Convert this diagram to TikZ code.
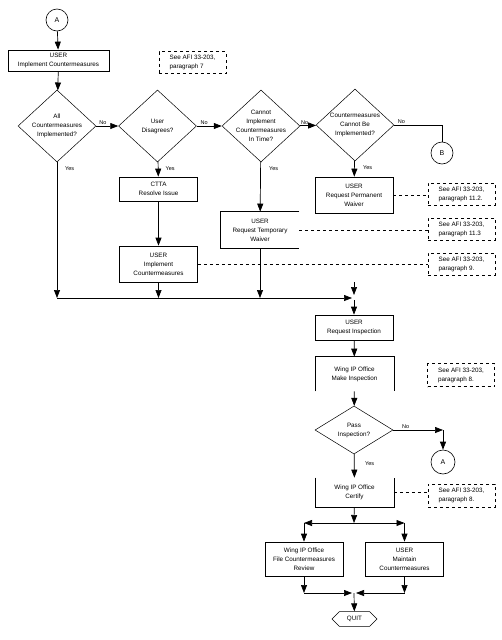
\documentclass[tikz,border=0pt]{standalone}
\usepackage{fontspec}
\setmainfont{Liberation Sans}
\usetikzlibrary{arrows.meta,positioning,shapes.geometric,shapes.misc,calc}

\begin{document}
\begin{tikzpicture}[
  x=1pt, y=-1pt,
  font=\fontsize{6.3}{9}\selectfont,
  box/.style={draw, minimum width=78pt, minimum height=34pt, align=center, inner sep=1pt, line width=0.7pt},
  openbox/.style={box, draw=none},
  decision/.style={diamond, draw, minimum width=78pt, minimum height=72pt, inner sep=-9pt, align=center, line width=0.5pt},
  note/.style={draw, dashed, minimum width=67pt, minimum height=22pt, align=left, inner sep=1pt, line width=0.7pt},
  conn/.style={circle, draw, minimum size=22pt, inner sep=0pt, line width=0.6pt, font=\fontsize{7}{8}\selectfont},
  term/.style={chamfered rectangle, chamfered rectangle xsep=4pt, draw, minimum width=45pt, minimum height=14pt, inner sep=1pt, line width=0.6pt},
  arr/.style={-{Triangle[length=8pt,width=6pt]}, line width=0.7pt},
  link/.style={dashed, line width=0.7pt},
  lbl/.style={font=\fontsize{5.5}{6}\selectfont, inner sep=1pt}
]
\useasboundingbox (0,0) rectangle (502,640);

% --- top row of decisions
\node[conn] (A1) at (57,20) {A};
\node[box, minimum width=101pt, minimum height=21pt] (impl) at (58.5,60.5) {USER\\Implement Countermeasures};
\node[note] (n7) at (192.5,62.5) {See AFI 33-203,\\paragraph 7};
\node[decision] (allimp) at (57,126) {All\\Countermeasures\\Implemented?};
\node[decision] (disagree) at (157.5,126) {User\\Disagrees?};
\node[decision] (intime) at (261,126) {Cannot\\Implement\\Countermeasures\\In Time?};
\node[decision] (cannot) at (355,125) {Countermeasures\\Cannot Be\\Implemented?};
\node[conn] (B) at (442,153) {B};

\draw[arr] (A1) -- (impl);
\draw[arr] (impl) -- (allimp);
\draw[arr] (allimp) -- node[lbl, above, pos=0.3] {No} (disagree);
\draw[arr] (disagree) -- node[lbl, above, pos=0.3] {No} (intime);
\draw[arr] (intime) -- node[lbl, above, pos=0.3] {No} (cannot);
\draw[line width=0.7pt] (cannot.east) -- node[lbl, above, pos=0.15] {No} (cannot.east -| B) -- (B.north);

% --- waivers and resolution
\node[box, minimum height=24pt] (ctta) at (158.5,189) {CTTA\\Resolve Issue};
\node[box, minimum height=36pt] (impl2) at (158.5,264) {USER\\Implement\\Countermeasures};
\node[openbox, minimum height=36pt] (tempw) at (260,230) {USER\\Request Temporary\\Waiver};
\node[box, minimum height=36pt] (permw) at (354,195) {USER\\Request Permanent\\Waiver};
\node[note] (n112) at (461.5,194) {See AFI 33-203,\\paragraph 11.2.};
\node[note] (n113) at (461.5,229) {See AFI 33-203,\\paragraph 11.3};
\node[note] (n9) at (461.5,264) {See AFI 33-203,\\paragraph 9.};
\draw[line width=0.7pt] (tempw.north east) -- (tempw.north west) -- (tempw.south west) -- (tempw.south east);

\draw[arr] (disagree) -- (ctta);
\draw[arr] (ctta) -- (impl2);
\draw[arr] (intime) -- (tempw);
\draw[arr] (cannot) -- (permw);
\node[lbl, anchor=west] at ([xshift=7pt,yshift=-6pt]allimp.south) {Yes};
\node[lbl, anchor=west] at ([xshift=7pt,yshift=-6pt]disagree.south) {Yes};
\node[lbl, anchor=west] at ([xshift=7pt,yshift=-6pt]intime.south) {Yes};
\node[lbl, anchor=west] at ([xshift=7pt,yshift=-6pt]cannot.south) {Yes};
\draw[link] (permw.east) -- (permw.east -| n112.west);
\draw[link] (tempw.east) -- (tempw.east -| n113.west);
\draw[link] (impl2.east) -- (impl2.east -| n9.west);

% --- join line
\coordinate (join) at (354,298);
\coordinate (stub) at (354,282);
\draw[arr] (allimp.south) -- (allimp.south |- join);
\draw[arr] (impl2) -- (impl2 |- join);
\draw[arr] (tempw) -- (tempw |- join);
\draw[arr, shorten >=2pt] (allimp.south |- join) -- (join);
\draw[arr, shorten >=3pt] (stub) -- (join);

% --- inspection
\node[box, minimum height=25pt] (reqinsp) at (354,327.5) {USER\\Request Inspection};
\node[openbox, minimum height=34pt] (mkinsp) at (354.5,374) {Wing IP Office\\Make Inspection};
\node[note, minimum height=23pt] (n8a) at (461,375) {See AFI 33-203,\\paragraph 8.};
\node[decision, minimum height=48pt] (pass) at (354,430) {Pass\\Inspection?};
\node[conn, minimum size=24pt] (A2) at (443,462) {A};
\node[openbox, minimum height=29pt] (certify) at (354.5,492.5) {Wing IP Office\\Certify};
\node[note, minimum height=23pt] (n8b) at (461.5,495.5) {See AFI 33-203,\\paragraph 8.};
\draw[line width=0.7pt] (mkinsp.south west) -- (mkinsp.north west) -- (mkinsp.north east) -- (mkinsp.south east);
\draw[line width=0.7pt] (certify.north west) -- (certify.south west) -- (certify.south east) -- (certify.north east);

\draw[arr] ([yshift=-2pt]join) -- (reqinsp);
\draw[arr] (reqinsp) -- (mkinsp);
\draw[arr] (mkinsp) -- (pass);
\draw[arr] (pass.east) -- node[lbl, above, pos=0.25] {No} (pass.east -| A2);
\draw[arr] (pass.east -| A2) -- (A2);
\draw[arr] (pass) -- (certify);
\node[lbl, anchor=west] at ([xshift=10pt,yshift=-9pt]pass.south) {Yes};
\draw[link] (certify.east) -- (certify.east -| n8b.west);

% --- closing
\coordinate (split) at (354,523);
\coordinate (merge) at (354,593);
\node[box] (filerev) at (304,559) {Wing IP Office\\File Countermeasures\\Review};
\node[box] (maintain) at (404.5,559) {USER\\Maintain\\Countermeasures};
\node[term] (quit) at (354.5,619) {QUIT};

\draw[arr] (certify) -- (split);
\draw[arr] (split) -- (split -| filerev);
\draw[arr] (split) -- (split -| maintain);
\draw[arr] (split -| filerev) -- (filerev);
\draw[arr] (split -| maintain) -- (maintain);
\draw[arr] (filerev) -- (filerev |- merge);
\draw[arr] (maintain) -- (maintain |- merge);
\draw[arr, shorten >=2pt] (filerev |- merge) -- (merge);
\draw[arr, shorten >=2pt] (maintain |- merge) -- (merge);
\draw[arr] (merge) -- (quit);
\end{tikzpicture}
\end{document}
